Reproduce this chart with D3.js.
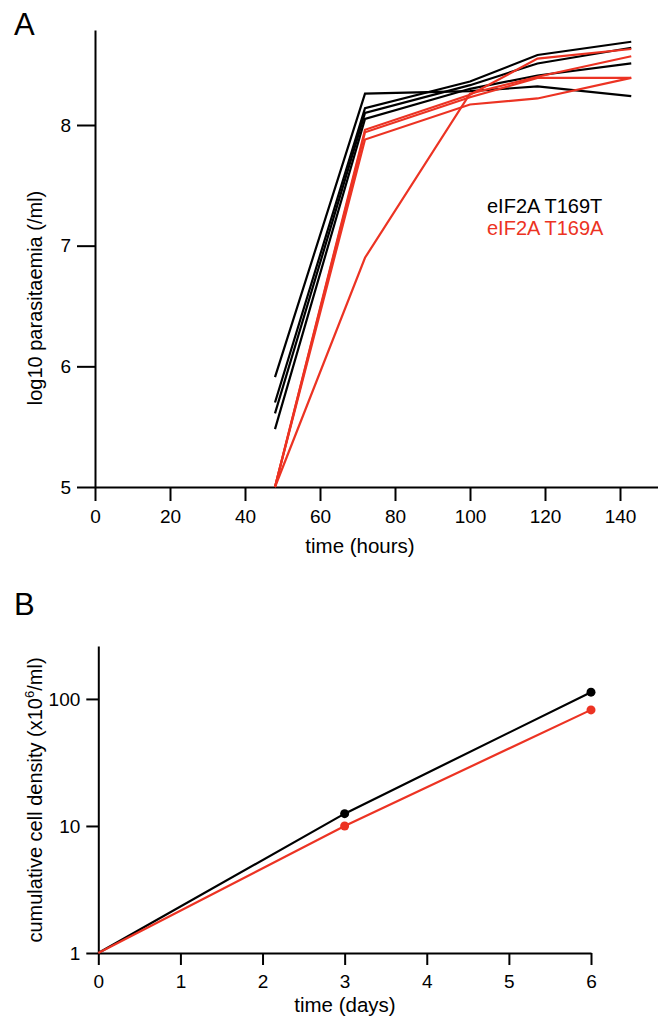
<!DOCTYPE html>
<html>
<head>
<meta charset="utf-8">
<script src="https://cdn.jsdelivr.net/npm/d3@7"></script>
<style>
body { margin: 0; background: #fff; }
text { font-family: "Liberation Sans", Arial, sans-serif; }
</style>
</head>
<body>
<div id="chart"></div>
<script>
// panel A - parasitaemia per mouse
var hours = [48, 72, 100, 118, 143];
var t169t = [
  [5.91, 8.26, 8.28, 8.32, 8.24],
  [5.70, 8.14, 8.36, 8.58, 8.69],
  [5.61, 8.10, 8.33, 8.51, 8.64],
  [5.48, 8.05, 8.30, 8.41, 8.51]
];
var t169a = [
  [5.00, 7.96, 8.25, 8.55, 8.63],
  [5.00, 7.94, 8.23, 8.39, 8.39],
  [5.00, 7.88, 8.17, 8.22, 8.39],
  [5.00, 6.90, 8.26, 8.40, 8.57]
];
var hourTicks = [0, 20, 40, 60, 80, 100, 120, 140];
var logTicks = [5, 6, 7, 8];
var legendLabels = ["eIF2A T169T", "eIF2A T169A"];

// panel B - cumulative density
var days = [0, 3, 6];
var densT = [1, 12.5, 113];
var densA = [1, 10.0, 82];
var dayTicks = [0, 1, 2, 3, 4, 5, 6];
var densTicks = [1, 10, 100];

var black = "#000000", red = "#ec3323";

var svg = d3.select("#chart")
  .append("svg")
  .attr("width", 664)
  .attr("height", 1021);

// ---------- A ----------
var xA = d3.scaleLinear().domain([0, 150]).range([95, 657.5]);
var yA = d3.scaleLinear().domain([5, 8]).range([487, 125]);

svg.append("g")
  .attr("transform", "translate(0," + yA(5) + ")")
  .call(d3.axisBottom(xA).tickValues(hourTicks).tickFormat(d3.format("d"))
    .tickSize(14).tickSizeOuter(0).tickPadding(9));
svg.append("g")
  .attr("transform", "translate(" + xA(0) + ",0)")
  .call(d3.axisLeft(yA.copy().domain([5, yA.invert(30)]).range([487, 30]))
    .tickValues(logTicks).tickFormat(d3.format("d"))
    .tickSize(18).tickSizeOuter(0).tickPadding(6));

var lineA = d3.line()
  .x(function (d, i) { return xA(hours[i]); })
  .y(function (d) { return yA(d); });

svg.append("g").selectAll("path").data(t169t).enter()
  .append("path")
  .attr("d", lineA)
  .attr("fill", "none")
  .attr("stroke", black)
  .attr("stroke-width", 2.2);
svg.append("g").selectAll("path").data(t169a).enter()
  .append("path")
  .attr("d", lineA)
  .attr("fill", "none")
  .attr("stroke", red)
  .attr("stroke-width", 2.2);

svg.selectAll(".leg").data(legendLabels).enter()
  .append("text")
  .attr("x", 487)
  .attr("y", function (d, i) { return 213 + i * 22; })
  .attr("fill", function (d, i) { return i == 0 ? black : red; })
  .style("font-size", "20px")
  .text(function (d) { return d; });

svg.append("text").attr("x", 360).attr("y", 553)
  .attr("text-anchor", "middle").style("font-size", "20.5px").text("time (hours)");
svg.append("text").attr("transform", "translate(42,298)rotate(-90)")
  .attr("text-anchor", "middle").style("font-size", "20px").text("log10 parasitaemia (/ml)");
svg.append("text").attr("x", 14).attr("y", 35).style("font-size", "31px").text("A");

// ---------- B ----------
var xB = d3.scaleLinear().domain([0, 6]).range([98.3, 591]);
var yB = d3.scaleLog().domain([1, 261]).range([953, 646]);

svg.append("g")
  .attr("transform", "translate(0," + yB(1) + ")")
  .call(d3.axisBottom(xB).tickValues(dayTicks).tickFormat(d3.format("d"))
    .tickSize(12).tickSizeOuter(0).tickPadding(10));
svg.append("g")
  .attr("transform", "translate(" + xB(0) + ",0)")
  .call(d3.axisLeft(yB).tickValues(densTicks).tickFormat(d3.format("d"))
    .tickSize(12).tickSizeOuter(0).tickPadding(6));

var lineB = d3.line()
  .x(function (d, i) { return xB(days[i]); })
  .y(function (d) { return yB(d); });

[[densT, black], [densA, red]].forEach(function (s) {
  svg.append("path")
    .attr("d", lineB(s[0]))
    .attr("fill", "none")
    .attr("stroke", s[1])
    .attr("stroke-width", 2.2);
  svg.append("g").selectAll("circle").data(s[0].slice(1)).enter()
    .append("circle")
    .attr("cx", function (d, i) { return xB(days[i + 1]); })
    .attr("cy", function (d) { return yB(d); })
    .attr("r", 4.5)
    .attr("fill", s[1]);
});

svg.append("text").attr("x", 345).attr("y", 1012)
  .attr("text-anchor", "middle").style("font-size", "20.5px").text("time (days)");
var yt = svg.append("text").attr("transform", "translate(42,800)rotate(-90)")
  .attr("text-anchor", "middle").style("font-size", "20px");
yt.append("tspan").text("cumulative cell density (x10");
yt.append("tspan").attr("dy", -8).style("font-size", "13px").text("6");
yt.append("tspan").attr("dy", 8).text("/ml)");
svg.append("text").attr("x", 14).attr("y", 615).style("font-size", "31px").text("B");

// axis styling
svg.selectAll(".domain, .tick line").attr("stroke", black).attr("stroke-width", 2);
svg.selectAll(".tick text").attr("fill", black).style("font-size", "19px")
  .style("font-family", "Liberation Sans, Arial, sans-serif");
</script>
</body>
</html>
